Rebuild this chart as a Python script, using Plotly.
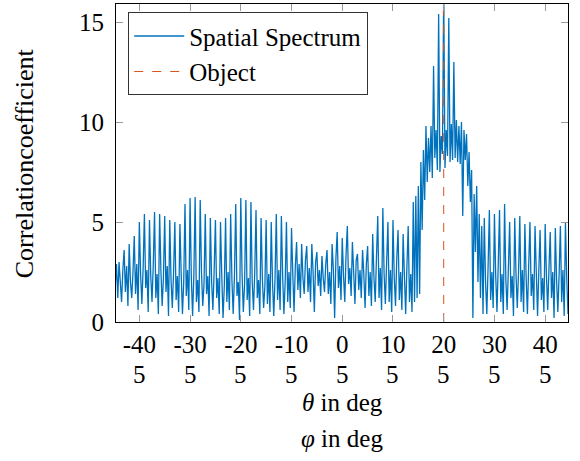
import numpy as np
import plotly.graph_objects as go

# ---- data ----
theta_start = -45.0
theta_step = 0.25
spectrum = [
    3.2, 1.8, 2.9, 1.2,   # -45
    3.0, 2.2, 1.0, 2.6,   # -44
    3.6, 1.5, 2.8, 0.8,   # -43
    3.9, 2.0, 1.2, 2.5,   # -42
    4.3, 1.4, 2.9, 0.6,   # -41
    5.0, 2.4, 0.9, 2.7,   # -40
    5.4, 1.7, 2.6, 0.5,   # -39
    5.1, 2.3, 1.0, 2.9,   # -38
    5.5, 1.2, 2.4, 0.4,   # -37
    5.4, 2.6, 0.8, 2.2,   # -36
    5.3, 1.5, 2.8, 0.3,   # -35
    5.1, 2.1, 0.7, 2.5,   # -34
    5.0, 1.1, 2.3, 0.5,   # -33
    4.9, 2.4, 0.4, 2.0,   # -32
    5.9, 1.3, 2.6, 0.6,   # -31
    6.2, 2.2, 0.3, 2.4,   # -30
    6.25, 1.0, 2.1, 0.5,  # -29
    6.1, 2.5, 0.8, 1.9,   # -28
    5.4, 1.4, 2.3, 0.3,   # -27
    5.2, 2.0, 0.6, 2.6,   # -26
    5.1, 1.2, 2.2, 0.4,   # -25
    5.0, 2.3, 0.2, 1.8,   # -24
    5.2, 1.0, 2.5, 0.6,   # -23
    5.4, 2.1, 0.4, 2.3,   # -22
    5.9, 1.3, 2.0, 0.1,   # -21
    6.2, 2.4, 0.5, 1.9,   # -20
    6.1, 1.1, 2.2, 0.3,   # -19
    6.0, 2.0, 0.6, 2.5,   # -18
    5.6, 1.2, 2.1, 0.4,   # -17
    5.2, 2.2, 0.7, 1.8,   # -16
    5.1, 0.9, 2.4, 0.5,   # -15
    5.0, 2.0, 0.3, 2.2,   # -14
    5.4, 1.1, 2.6, 0.6,   # -13
    5.3, 2.3, 0.4, 2.0,   # -12
    5.0, 1.0, 2.5, 0.7,   # -11
    4.7, 2.4, 0.5, 2.8,   # -10
    4.0, 1.6, 2.9, 1.2,   # -9
    3.9, 2.2, 1.4, 3.1,   # -8
    3.8, 1.5, 2.7, 1.0,   # -7
    3.9, 2.5, 0.5, 3.0,   # -6
    3.5, 1.8, 2.6, 1.3,   # -5
    3.3, 2.2, 1.5, 2.9,   # -4
    3.6, 1.4, 2.5, 0.9,   # -3
    3.9, 2.6, 0.2, 3.2,   # -2
    4.5, 1.7, 2.8, 1.1,   # -1
    4.2, 2.3, 1.0, 3.4,   # 0
    4.8, 1.9, 2.7, 1.3,   # 1
    4.0, 2.5, 0.9, 3.1,   # 2
    3.4, 1.6, 2.6, 1.2,   # 3
    3.6, 2.4, 0.7, 2.9,   # 4
    3.8, 1.3, 2.5, 0.8,   # 5
    4.4, 2.2, 1.0, 3.3,   # 6
    5.3, 1.2, 2.7, 0.6,   # 7
    5.7, 2.4, 0.9, 3.0,   # 8
    5.0, 1.0, 2.6, 0.5,   # 9
    5.1, 2.2, 0.8, 3.2,   # 10
    4.6, 1.1, 2.5, 0.6,   # 11
    4.4, 2.3, 0.4, 2.8,   # 12
    4.8, 1.0, 2.4, 0.5,   # 13
    6.0, 1.0, 6.3, 1.2,   # 14
    6.8, 1.4, 8.0, 4.6,   # 15
    8.6, 6.1, 9.8, 7.0,   # 16
    9.2, 7.5, 9.8, 7.2,   # 17
    12.8, 8.2, 9.6, 7.6,  # 18
    15.4, 7.5, 9.3, 8.4,  # 19
    16.5, 7.7, 9.6, 8.3,  # 20
    15.2, 8.0, 9.9, 8.1,  # 21
    13.0, 8.2, 10.1, 8.0, # 22
    9.8, 7.9, 10.0, 5.3,  # 23
    9.6, 8.1, 9.4, 6.8,   # 24
    8.5, 6.0, 7.6, 0.2,   # 25
    6.4, 3.5, 6.8, 2.0,   # 26
    5.4, 1.2, 4.8, 0.4,   # 27
    5.2, 2.0, 0.4, 2.8,   # 28
    5.6, 1.1, 2.5, 0.7,   # 29
    5.4, 2.3, 0.5, 2.9,   # 30
    5.6, 1.0, 2.4, 0.4,   # 31
    5.9, 2.1, 0.6, 2.7,   # 32
    5.0, 1.2, 2.3, 0.3,   # 33
    5.2, 2.4, 0.7, 2.5,   # 34
    5.3, 1.0, 2.6, 0.5,   # 35
    4.9, 2.2, 0.4, 2.8,   # 36
    5.0, 1.3, 2.4, 0.6,   # 37
    4.8, 2.5, 0.3, 2.6,   # 38
    4.6, 1.1, 2.2, 0.5,   # 39
    4.9, 2.3, 0.6, 2.7,   # 40
    4.5, 1.2, 2.5, 0.2,   # 41
    4.7, 2.1, 0.5, 2.4,   # 42
    4.8, 1.0, 2.6, 0.3,   # 43
    5.0, 2.2, 0.4, 2.5,   # 44
    4.2,                  # 45
]
theta = theta_start + theta_step * np.arange(len(spectrum))

object_theta = 20
theta_ticks = [-40, -30, -20, -10, 0, 10, 20, 30, 40]
theta_labels = ["-40", "-30", "-20", "-10", "0", "10", "20", "30", "40"]
phi_labels = ["5", "5", "5", "5", "5", "5", "5", "5", "5"]
y_ticks = [0, 5, 10, 15]
y_tick_labels = ["0", "5", "10", "15"]

x_range = [-44.6, 44.5]
y_range = [0, 15.9]

FONT = "Liberation Serif"
FS = 25

fig = go.Figure()
fig.add_trace(go.Scatter(
    x=theta, y=spectrum, mode="lines", name="Spatial Spectrum",
    line=dict(color="#0072BD", width=1.3),
))
fig.add_trace(go.Scatter(
    x=[object_theta, object_theta], y=y_range, mode="lines", name="Object",
    line=dict(color="#D95319", width=1, dash="dash"),
))

axis_common = dict(
    showline=True, linecolor="black", linewidth=1, mirror="ticks",
    ticks="inside", ticklen=7, tickcolor="#999999", tickwidth=1,
    showgrid=False, zeroline=False,
    tickfont=dict(family=FONT, size=FS, color="black"),
)

fig.update_layout(
    width=580, height=461,
    margin=dict(l=116, r=12, t=4, b=139),
    paper_bgcolor="white", plot_bgcolor="white",
    font=dict(family=FONT, size=FS, color="black"),
    xaxis=dict(range=x_range, tickvals=theta_ticks, ticktext=theta_labels, **axis_common),
    yaxis=dict(range=y_range, tickvals=y_ticks, ticktext=y_tick_labels,
               ticklabelstandoff=6, **axis_common),
    legend=dict(
        x=0.027, y=0.974, xanchor="left", yanchor="top",
        bgcolor="white", bordercolor="#333333", borderwidth=1,
        itemwidth=50,
        font=dict(family=FONT, size=25, color="black"), tracegroupgap=0,
    ),
    showlegend=True,
)

annotations = []
for t, lab in zip(theta_ticks, phi_labels):
    annotations.append(dict(x=t, y=-0.165, xref="x", yref="paper", text=lab,
                            showarrow=False, yanchor="middle",
                            font=dict(family=FONT, size=FS, color="black")))
annotations.append(dict(x=0.5, y=-0.252, xref="paper", yref="paper",
                        text="<i>θ</i> in deg", showarrow=False, yanchor="middle",
                        font=dict(family=FONT, size=FS, color="black")))
annotations.append(dict(x=0.5, y=-0.365, xref="paper", yref="paper",
                        text="<i>φ</i> in deg", showarrow=False, yanchor="middle",
                        font=dict(family=FONT, size=FS, color="black")))
annotations.append(dict(x=-0.203, y=0.5, xref="paper", yref="paper",
                        text="Correlationcoefficient", textangle=-90, showarrow=False,
                        xanchor="center", yanchor="middle",
                        font=dict(family=FONT, size=26, color="black")))
fig.update_layout(annotations=annotations)

fig.write_html("out.html")
